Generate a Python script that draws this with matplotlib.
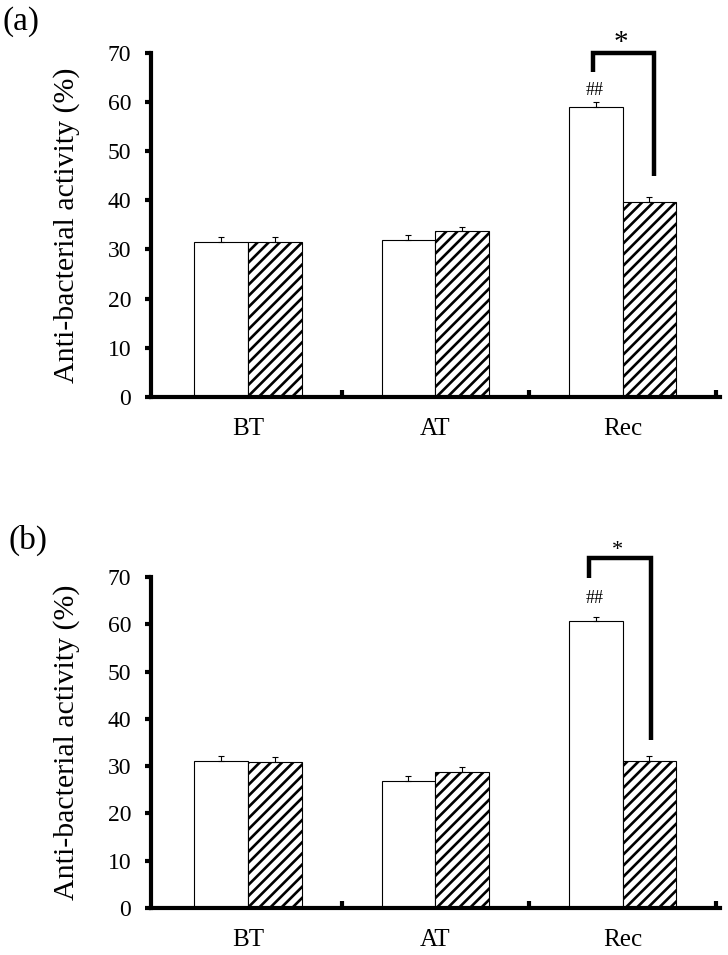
import numpy as np
import matplotlib
matplotlib.use('Agg')
import matplotlib.pyplot as plt

plt.rcParams['font.family'] = ['Liberation Serif', 'DejaVu Serif']
plt.rcParams['hatch.linewidth'] = 1.9

# dados
cats = ['BT', 'AT', 'Rec']

a_white = [31.6, 31.9, 58.9]
a_white_err = [1.0, 1.0, 1.0]
a_hatch = [31.6, 33.7, 39.7]
a_hatch_err = [1.0, 0.9, 1.0]

b_white = [31.1, 26.9, 60.7]
b_white_err = [1.0, 1.0, 0.9]
b_hatch = [30.9, 28.8, 31.1]
b_hatch_err = [1.0, 1.0, 1.0]

# anotacoes de significancia: (topo, perna esquerda, perna direita)
a_bracket = [70.0, 66.0, 45.0]
b_bracket = [74.0, 69.8, 35.5]
a_hash_y = 62.4
b_hash_y = 65.5

W = 0.287
x = np.arange(len(cats))

fig = plt.figure(figsize=(7.28, 9.55), dpi=100)
ax_a = fig.add_axes([0.207, 0.5843, 0.782, 0.3605])
ax_b = fig.add_axes([0.207, 0.0492, 0.782, 0.3466])


def painel(ax, white, werr, hatch, herr, bracket, hash_y, star_y, star_size, xl, xr, xs):
    ax.bar(x - W / 2, white, W, color='white', edgecolor='black', linewidth=0.8, zorder=2)
    ax.bar(x + W / 2, hatch, W, color='white', edgecolor='black', linewidth=0.8,
           hatch='///', zorder=2)
    ax.errorbar(x - W / 2, white, yerr=[np.zeros(3), werr], fmt='none', ecolor='black',
                elinewidth=0.8, capsize=2.5, capthick=0.8, zorder=3)
    ax.errorbar(x + W / 2, hatch, yerr=[np.zeros(3), herr], fmt='none', ecolor='black',
                elinewidth=0.8, capsize=2.5, capthick=0.8, zorder=3)

    # colchete de significancia
    ax.plot([xl, xl, xr, xr], [bracket[1], bracket[0], bracket[0], bracket[2]],
            color='black', linewidth=3.2, solid_joinstyle='miter', solid_capstyle='butt',
            clip_on=False, zorder=4)
    ax.text(xs, star_y, '*', ha='center', va='center', fontsize=star_size, clip_on=False)
    ax.text(x[2] - W / 2 - 0.005, hash_y, '##', ha='center', va='center', fontsize=13)

    ax.set_xlim(-0.52, 2.52)
    ax.set_ylim(0, 70)
    ax.set_yticks(np.arange(0, 71, 10))
    ax.set_xticks(x)
    ax.set_xticklabels(cats)
    ax.set_xticks([0.5, 1.5, 2.5], minor=True)
    ax.tick_params(axis='x', which='major', length=0, pad=15, labelsize=18)
    ax.tick_params(axis='x', which='minor', direction='in', length=5, width=3)
    ax.tick_params(axis='y', direction='out', length=4, width=3, pad=10, labelsize=17)
    for s in ['top', 'right']:
        ax.spines[s].set_visible(False)
    for s in ['left', 'bottom']:
        ax.spines[s].set_linewidth(3)
    ax.set_ylabel('Anti-bacterial activity (%)', fontsize=21.5)
    ax.yaxis.set_label_coords(-0.125, 0.5)


painel(ax_a, a_white, a_white_err, a_hatch, a_hatch_err, a_bracket, a_hash_y,
       72.0, 21, 1.84, 2.17, 1.99)
painel(ax_b, b_white, b_white_err, b_hatch, b_hatch_err, b_bracket, b_hash_y,
       75.7, 16, 1.82, 2.15, 1.97)

fig.text(0.004, 1 - 22 / 955, '(a)', fontsize=24, va='center', ha='left')
fig.text(0.012, 1 - 540 / 955, '(b)', fontsize=24, va='center', ha='left')

fig.savefig('out.png', dpi=100)
